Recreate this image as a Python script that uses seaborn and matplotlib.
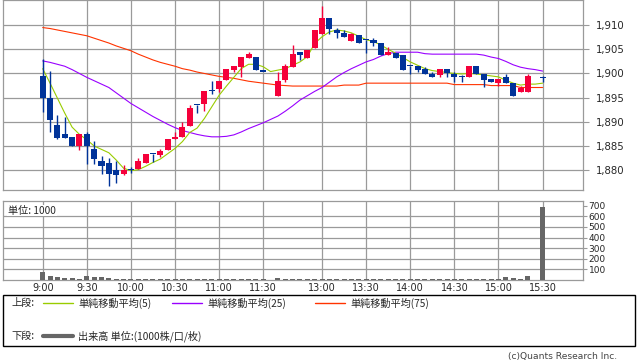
import numpy as np
import pandas as pd
import seaborn as sns
import matplotlib
matplotlib.use("Agg")
import matplotlib.pyplot as plt
from matplotlib.lines import Line2D
from matplotlib.patches import Rectangle

# 5-minute bars, index 0 = 9:00 ; index 31 (lunch) and 67 (15:25) have no trade
tick_pos = [0, 6, 12, 18, 24, 30, 38, 44, 50, 56, 62, 68]
tick_labels = ["9:00", "9:30", "10:00", "10:30", "11:00", "11:30",
               "13:00", "13:30", "14:00", "14:30", "15:00", "15:30"]

opens = [1899.5, 1895.0, 1889.3, 1887.5, 1886.9, 1884.9, 1887.5, 1884.4, 1881.9, 1881.4,
         1880.1, 1879.3, 1880.0, 1880.2, 1881.4, 1883.4, 1883.2, 1884.2, 1886.4, 1886.8,
         1889.2, 1893.4, 1893.7, 1896.4, 1896.8, 1898.7, 1900.7, 1901.3, 1903.2, 1903.4,
         1900.4, None, 1895.4, 1898.6, 1901.4, 1904.4, 1903.2, 1905.3, 1908.2, 1911.4,
         1909.0, 1908.4, 1906.8, 1907.9, 1906.9, 1906.9, 1906.4, 1903.9, 1904.2, 1903.9,
         1901.5, 1901.5, 1900.9, 1899.9, 1899.6, 1900.9, 1899.9, 1899.3, 1899.3, 1901.5,
         1899.8, 1898.9, 1898.0, 1899.3, 1898.0, 1896.2, 1896.2, None, 1899.0]
highs = [1903.0, 1900.5, 1891.4, 1891.0, 1886.9, 1887.5, 1888.0, 1886.0, 1883.0, 1882.5,
         1881.9, 1881.0, 1880.7, 1882.6, 1883.4, 1883.4, 1884.4, 1886.5, 1887.8, 1890.0,
         1893.5, 1893.4, 1896.4, 1898.4, 1898.4, 1900.9, 1901.5, 1903.4, 1904.4, 1903.4,
         1900.4, None, 1900.4, 1902.0, 1905.9, 1904.4, 1904.8, 1909.0, 1913.9, 1911.4,
         1909.4, 1909.0, 1908.4, 1907.9, 1906.9, 1907.3, 1906.4, 1905.5, 1904.2, 1903.9,
         1901.5, 1901.5, 1901.4, 1900.4, 1900.9, 1900.9, 1900.4, 1899.7, 1901.5, 1901.5,
         1899.8, 1898.9, 1898.9, 1899.9, 1898.0, 1897.5, 1899.9, None, 1899.4]
lows = [1892.0, 1887.8, 1886.4, 1886.7, 1884.9, 1884.2, 1881.3, 1881.3, 1879.3, 1876.8,
        1877.3, 1878.9, 1879.4, 1880.2, 1881.4, 1881.6, 1882.8, 1884.2, 1886.4, 1886.8,
        1889.2, 1891.9, 1892.3, 1895.8, 1896.2, 1898.6, 1900.4, 1899.3, 1903.2, 1900.8,
        1900.4, None, 1895.4, 1898.3, 1901.4, 1902.8, 1903.2, 1905.3, 1908.2, 1908.2,
        1907.4, 1907.5, 1906.8, 1906.4, 1904.3, 1905.7, 1903.8, 1903.9, 1903.3, 1900.8,
        1899.9, 1900.4, 1899.8, 1899.3, 1899.3, 1899.3, 1898.2, 1898.2, 1899.3, 1899.8,
        1897.3, 1898.3, 1897.4, 1898.0, 1895.4, 1896.2, 1896.2, None, 1898.3]
closes = [1895.0, 1890.3, 1886.7, 1886.7, 1884.9, 1887.5, 1884.9, 1882.4, 1880.8, 1879.3,
          1878.9, 1880.1, 1880.0, 1881.9, 1883.4, 1883.4, 1884.0, 1886.5, 1886.9, 1888.9,
          1892.9, 1893.4, 1896.4, 1896.4, 1898.4, 1900.9, 1901.5, 1903.4, 1904.0, 1900.8,
          1900.4, None, 1898.4, 1901.5, 1904.0, 1903.8, 1904.8, 1909.0, 1911.4, 1909.2,
          1908.4, 1907.5, 1908.1, 1906.4, 1906.9, 1906.4, 1903.8, 1904.4, 1903.3, 1900.8,
          1901.5, 1900.7, 1899.8, 1899.3, 1900.9, 1900.2, 1899.3, 1899.3, 1901.5, 1899.8,
          1898.6, 1898.3, 1898.9, 1898.0, 1895.4, 1897.1, 1899.4, None, 1899.0]

sma5 = [1901.0, 1898.0, 1894.9, 1891.8, 1888.9, 1887.4, 1886.3, 1885.0, 1884.3, 1883.6,
        1882.1, 1880.4, 1879.9, 1880.1, 1880.8, 1881.6, 1882.3, 1883.4, 1884.5, 1885.9,
        1887.8, 1888.7, 1890.7, 1893.1, 1895.5, 1897.4, 1899.2, 1901.0, 1901.9, 1901.9,
        1901.4, 1900.4, 1900.7, 1901.0, 1901.7, 1902.4, 1903.5, 1906.2, 1907.6, 1908.6,
        1909.0, 1908.8, 1908.4, 1907.7, 1907.0, 1906.6, 1905.9, 1905.0, 1904.2, 1903.3,
        1902.4, 1901.7, 1901.0, 1900.6, 1900.4, 1900.2, 1900.0, 1899.9, 1900.0, 1899.9,
        1899.7, 1899.5, 1899.3, 1898.6, 1898.0, 1897.6, 1897.8, 1897.8, 1898.0]
sma25 = [1902.6, 1902.3, 1901.9, 1901.5, 1900.8, 1900.0, 1899.2, 1898.5, 1897.8, 1897.1,
         1896.0, 1894.9, 1893.8, 1892.9, 1892.0, 1891.1, 1890.3, 1889.5, 1888.8, 1888.2,
         1887.8, 1887.4, 1887.1, 1886.9, 1886.9, 1887.0, 1887.3, 1887.9, 1888.6, 1889.2,
         1889.8, 1890.5, 1891.2, 1892.2, 1893.3, 1894.5, 1895.4, 1896.3, 1897.1, 1898.2,
         1899.3, 1900.2, 1901.0, 1901.7, 1902.4, 1902.9, 1903.6, 1904.1, 1904.4, 1904.4,
         1904.4, 1904.4, 1904.1, 1904.0, 1904.0, 1904.0, 1904.0, 1904.0, 1904.0, 1904.0,
         1903.8, 1903.4, 1903.1, 1902.5, 1901.8, 1901.3, 1901.0, 1900.8, 1900.5]
sma75 = [1909.5, 1909.3, 1909.0, 1908.7, 1908.4, 1908.1, 1907.8, 1907.3, 1906.8, 1906.3,
         1905.7, 1905.2, 1904.7, 1904.0, 1903.4, 1902.8, 1902.3, 1901.9, 1901.5, 1901.0,
         1900.7, 1900.3, 1900.0, 1899.7, 1899.4, 1899.2, 1899.0, 1898.7, 1898.4, 1898.2,
         1898.0, 1897.8, 1897.6, 1897.5, 1897.4, 1897.4, 1897.4, 1897.4, 1897.4, 1897.4,
         1897.4, 1897.6, 1897.6, 1897.6, 1898.0, 1898.0, 1898.0, 1898.0, 1898.0, 1898.0,
         1898.0, 1898.0, 1898.0, 1898.0, 1898.0, 1898.0, 1897.7, 1897.7, 1897.7, 1897.7,
         1897.7, 1897.5, 1897.5, 1897.5, 1897.5, 1897.1, 1897.1, 1897.1, 1897.1]

volume = [79, 41, 31, 22, 22, 13, 41, 31, 31, 22,
          13, 6, 12, 10, 5, 5, 5, 10, 5, 10,
          12, 12, 12, 12, 12, 5, 5, 10, 5, 5,
          5, 0, 20, 10, 5, 5, 10, 10, 12, 8,
          5, 5, 5, 5, 8, 5, 8, 8, 5, 8,
          8, 5, 5, 8, 5, 5, 5, 5, 5, 5,
          8, 8, 5, 25, 15, 10, 35, 0, 690]

RED = "#f5003a"
BLUE = "#003399"
GRID = "#9a9a9a"
JP = ["Noto Sans CJK JP", "DejaVu Sans"]

sns.set_style("white")
plt.rcParams["font.family"] = ["DejaVu Sans", "Noto Sans CJK JP"]

W, H = 638, 362
fig = plt.figure(figsize=(W / 100, H / 100), dpi=100)


def box(x0, y0, x1, y1):
    return [x0 / W, 1 - y1 / H, (x1 - x0) / W, (y1 - y0) / H]


def fp(x, y):
    return x / W, 1 - y / H


ax = fig.add_axes(box(3, 0, 583, 190))
axv = fig.add_axes(box(3, 201, 583, 280))

idx = np.arange(len(opens))
o = np.array(opens, dtype=float)
h = np.array(highs, dtype=float)
l = np.array(lows, dtype=float)
c = np.array(closes, dtype=float)
ok = ~np.isnan(o)
col = np.where(c > o, RED, BLUE)

# moving averages
ma = pd.DataFrame({"idx": np.tile(idx, 3),
                   "val": sma75 + sma25 + sma5,
                   "ma": ["75"] * len(idx) + ["25"] * len(idx) + ["5"] * len(idx)})
sns.lineplot(data=ma, x="idx", y="val", hue="ma",
             palette={"5": "#99cc00", "25": "#9900ff", "75": "#ff3300"},
             estimator=None, sort=False, legend=False, linewidth=0.8, ax=ax, zorder=2)

# candles
ax.vlines(idx[ok], l[ok], h[ok], colors=col[ok], linewidth=1.0, zorder=3)
bot = np.minimum(o, c)
hgt = np.maximum(np.abs(c - o), 0.22)
ax.bar(idx[ok], hgt[ok], bottom=bot[ok], width=0.82, color=col[ok], linewidth=0, zorder=4)

ax.set_xlim(-5.4, 73.5)
ax.set_ylim(1875.9, 1915.2)
ax.set_xticks(tick_pos)
ax.set_xticklabels([])
ax.set_yticks([1880, 1885, 1890, 1895, 1900, 1905, 1910])
ax.set_yticklabels([f"{v:,}" for v in [1880, 1885, 1890, 1895, 1900, 1905, 1910]])
ax.yaxis.tick_right()
ax.tick_params(axis="y", length=4, width=0.8, color=GRID, pad=5, labelsize=7.3)
ax.tick_params(axis="x", length=0)
ax.grid(True, color=GRID, linewidth=0.9)
ax.set_xlabel("")
ax.set_ylabel("")
for s in ax.spines.values():
    s.set_color(GRID)
    s.set_linewidth(0.9)

# volume
axv.bar(idx, volume, width=0.68, color="#666666", linewidth=0, zorder=3)
axv.set_xlim(-5.4, 73.5)
axv.set_ylim(0, 745)
axv.set_xticks(tick_pos)
axv.set_xticklabels(tick_labels)
axv.set_yticks([100, 200, 300, 400, 500, 600, 700])
axv.yaxis.tick_right()
axv.tick_params(axis="y", length=3, width=0.8, color=GRID, pad=1, labelsize=6.5)
axv.tick_params(axis="x", length=0, pad=2, labelsize=7)
for t in tick_pos:
    axv.axvline(t, color=GRID, linewidth=0.9, zorder=1)
for v in [100, 200, 300, 400, 500, 600]:
    axv.axhline(v, color=GRID, linewidth=0.9, zorder=1)
for s in axv.spines.values():
    s.set_color(GRID)
    s.set_linewidth(0.9)
axv.text(5 / 580, 0.88, "単位: 1000", transform=axv.transAxes, family=JP,
         fontsize=7.3, va="center", ha="left", zorder=5,
         bbox=dict(facecolor="white", edgecolor="none", pad=0.5))

# legend box
x0, y0 = fp(3, 346)
x1, y1 = fp(635, 295)
fig.patches.append(Rectangle((x0, y0), x1 - x0, y1 - y0, transform=fig.transFigure,
                             fill=False, edgecolor="black", linewidth=1.0))

legend_rows = [
    (303, "上段:", [(43, 73, "#99cc00", 1.0, "単純移動平均(5)", 78),
                   (172, 202, "#9900ff", 1.0, "単純移動平均(25)", 207),
                   (315, 345, "#ff3300", 1.0, "単純移動平均(75)", 350)]),
    (336, "下段:", [(43, 73, "#666666", 3.0, "出来高 単位:(1000株/口/枚)", 78)]),
]
for yy, head, items in legend_rows:
    fig.text(*fp(11, yy), head, family=JP, fontsize=7.3, va="center", ha="left")
    for xa, xb, lc, lw, lab, xt in items:
        fig.add_artist(Line2D([xa / W, xb / W], [1 - yy / H, 1 - yy / H],
                              transform=fig.transFigure, color=lc, linewidth=lw))
        fig.text(*fp(xt, yy), lab, family=JP, fontsize=7.3, va="center", ha="left")

fig.text(*fp(617, 357), "(c)Quants Research Inc.", fontsize=6.6, color="#444444",
         ha="right", va="center")

fig.savefig("out.png", dpi=100)
